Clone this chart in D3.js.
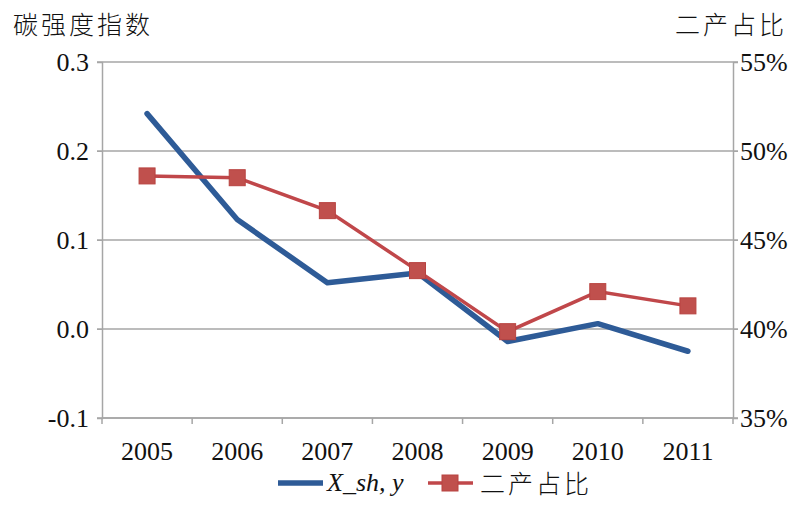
<!DOCTYPE html>
<html>
<head>
  <meta charset='utf-8'>
  <title>碳强度指数与二产占比</title>
  <style>
    body { margin: 0; background: #fff; }
    svg text { font-family: 'Liberation Serif', 'Times New Roman', Times, 'DejaVu Serif', serif; fill: #111; }
    svg text.cjk { font-family: 'Noto Sans CJK SC', sans-serif; font-weight: 300; }
  </style>
</head>
<body>
  <div id="chart"></div>
<script src="https://cdnjs.cloudflare.com/ajax/libs/d3/7.8.5/d3.min.js"></script>
<script>

var years = ['2005', '2006', '2007', '2008', '2009', '2010', '2011'];
var carbonIdx = [0.242, 0.123, 0.052, 0.063, -0.014, 0.006, -0.025];   // X_sh, y
var secondShare = [48.6, 48.5, 46.65, 43.28, 39.85, 42.1, 41.3];       // 二产占比 (%)
var leftTicks = [-0.1, 0.0, 0.1, 0.2, 0.3];
var rightTicks = [35, 40, 45, 50, 55];

var width = 811, height = 507;
var plotL = 102, plotR = 733, plotT = 62, plotB = 418;
var serif = "'Liberation Serif', 'Times New Roman', Times, serif";

var svg = d3.select('#chart').append('svg')
  .attr('width', width)
  .attr('height', height);

var x = d3.scaleBand().domain(years).range([plotL, plotR]);
var yL = d3.scaleLinear().domain([-0.1, 0.3]).range([plotB, plotT]);
var yR = d3.scaleLinear().domain([35, 55]).range([plotB, plotT]);

// gridlines
svg.append('g')
  .selectAll('line')
  .data(leftTicks)
  .enter().append('line')
    .attr('x1', plotL - 5).attr('x2', plotR + 5)
    .attr('y1', function(d) { return yL(d); })
    .attr('y2', function(d) { return yL(d); })
    .attr('stroke', '#a6a6a6').attr('stroke-width', 1.5);

// left axis (hyphen minus like the original, not the unicode minus)
var fmtL = function(d) { return d3.format('.1f')(d).replace('\u2212', '-'); };
var gl = svg.append('g')
  .attr('transform', 'translate(' + plotL + ',0)')
  .call(d3.axisLeft(yL).tickValues(leftTicks).tickFormat(fmtL).tickSize(5));
gl.attr('font-family', serif).attr('font-size', 26);
gl.select('.domain').attr('stroke', '#a6a6a6').attr('stroke-width', 1.5);
gl.selectAll('.tick line').attr('stroke', '#a6a6a6');
gl.selectAll('.tick text').attr('x', -13).attr('dy', '0.34em').attr('fill', '#111');

// right axis
var gr = svg.append('g')
  .attr('transform', 'translate(' + plotR + ',0)')
  .call(d3.axisRight(yR).tickValues(rightTicks).tickFormat(function(d) { return d + '%'; }).tickSize(5));
gr.attr('font-family', serif).attr('font-size', 26);
gr.select('.domain').attr('stroke', '#a6a6a6').attr('stroke-width', 1.5);
gr.selectAll('.tick line').attr('stroke', '#a6a6a6');
gr.selectAll('.tick text').attr('x', 7).attr('dy', '0.34em').attr('fill', '#111');

// bottom axis: ticks at band edges, labels at centres
var gb = svg.append('g').attr('transform', 'translate(0,' + plotB + ')');
gb.append('line').attr('x1', plotL).attr('x2', plotR)
  .attr('stroke', '#a6a6a6').attr('stroke-width', 1.5);
gb.selectAll('line.tk')
  .data(years.concat(['end']))
  .enter().append('line')
    .attr('class', 'tk')
    .attr('x1', function(d, i) { return plotL + i * x.bandwidth(); })
    .attr('x2', function(d, i) { return plotL + i * x.bandwidth(); })
    .attr('y1', 0).attr('y2', 6)
    .attr('stroke', '#a6a6a6').attr('stroke-width', 1.5);
gb.selectAll('text')
  .data(years)
  .enter().append('text')
    .attr('x', function(d) { return x(d) + x.bandwidth() / 2; })
    .attr('y', 42)
    .attr('text-anchor', 'middle')
    .style('font-size', '26px')
    .text(function(d) { return d; });

// axis titles
svg.append('text').attr('class', 'cjk')
  .attr('x', 13).attr('y', 34)
  .style('font-size', '25px').style('letter-spacing', '3px')
  .text('碳强度指数');
svg.append('text').attr('class', 'cjk')
  .attr('x', 675).attr('y', 34)
  .style('font-size', '25px').style('letter-spacing', '3px')
  .text('二产占比');

var cx = function(d, i) { return x(years[i]) + x.bandwidth() / 2; };

// blue line
svg.append('path')
  .datum(carbonIdx)
  .attr('fill', 'none')
  .attr('stroke', '#2e5b97')
  .attr('stroke-width', 5.5)
  .attr('stroke-linejoin', 'round')
  .attr('stroke-linecap', 'round')
  .attr('d', d3.line().x(cx).y(function(d) { return yL(d); }));

// red line + markers
svg.append('path')
  .datum(secondShare)
  .attr('fill', 'none')
  .attr('stroke', '#c0474a')
  .attr('stroke-width', 3.5)
  .attr('d', d3.line().x(cx).y(function(d) { return yR(d); }));

svg.append('g')
  .selectAll('rect')
  .data(secondShare)
  .enter().append('rect')
    .attr('x', function(d, i) { return cx(d, i) - 8; })
    .attr('y', function(d) { return yR(d) - 8; })
    .attr('width', 16).attr('height', 16)
    .attr('fill', '#c0504d')
    .attr('stroke', '#b84340').attr('stroke-width', 1);

// legend
var lg = svg.append('g').attr('transform', 'translate(0,483)');
lg.append('line').attr('x1', 278).attr('x2', 323).attr('y1', 0).attr('y2', 0)
  .attr('stroke', '#2e5b97').attr('stroke-width', 5.5);
lg.append('text').attr('x', 327).attr('y', 8)
  .style('font-size', '26px').style('font-style', 'italic')
  .text('X_sh, y');
lg.append('line').attr('x1', 428).attr('x2', 473).attr('y1', 0).attr('y2', 0)
  .attr('stroke', '#c0474a').attr('stroke-width', 3.5);
lg.append('rect').attr('x', 442).attr('y', -8).attr('width', 16).attr('height', 16)
  .attr('fill', '#c0504d').attr('stroke', '#b84340');
lg.append('text').attr('class', 'cjk').attr('x', 480).attr('y', 10)
  .style('font-size', '25px').style('letter-spacing', '3px')
  .text('二产占比');

</script>
</body>
</html>
